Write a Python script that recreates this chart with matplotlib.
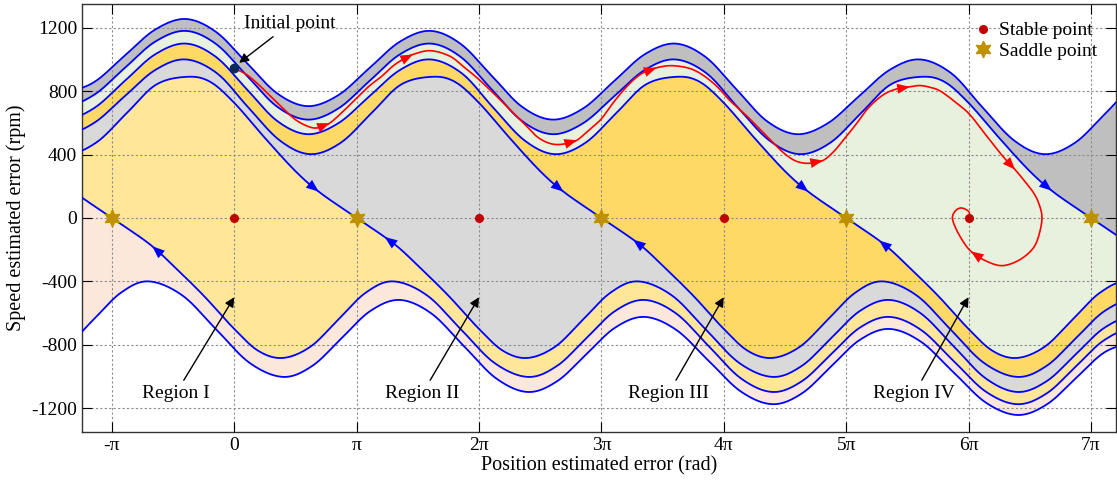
import numpy as np
import matplotlib
matplotlib.use('Agg')
import matplotlib.pyplot as plt
from matplotlib.lines import Line2D

plt.rcParams['font.family'] = ['Liberation Serif', 'DejaVu Serif']
plt.rcParams['axes.unicode_minus'] = False

# stable-manifold (separatrix) profile, relative to its saddle
# offset along x in multiples of pi, speed error in rpm
sep_u = [-10.4, -10.15, -9.9, -9.65, -9.4, -9.15, -8.9, -8.65, -8.4, -8.15, -7.9, -7.65,
         -7.4, -7.15, -6.9, -6.65, -6.4, -6.15, -5.9, -5.65, -5.4, -5.15, -4.9, -4.65,
         -4.4, -4.15, -3.9, -3.65, -3.4, -3.14, -2.89, -2.63, -2.38, -2.13, -1.88, -1.64,
         -1.39, -1.2, -1.0, -0.75, -0.5, -0.3, 0.0, 0.3, 0.5, 0.75, 1.0, 1.2, 1.4, 1.625,
         1.85, 2.075, 2.3, 2.575, 2.85, 3.125, 3.4, 3.64, 3.875, 4.11, 4.35, 4.61, 4.875,
         5.14, 5.4, 5.64, 5.875, 6.11, 6.35, 6.61, 6.875, 7.14, 7.4, 7.64, 7.875, 8.11,
         8.35, 8.61, 8.875, 9.14, 9.4, 9.64, 9.875, 10.11, 10.35]
sep_w = [785, 854, 1020, 1186, 1255, 1174, 980, 786, 705, 774, 942, 1110, 1180, 1098,
         900, 702, 620, 690, 860, 1030, 1100, 1016, 814, 612, 528, 597, 764, 931, 1000,
         912, 701, 490, 402, 474, 660, 840, 890, 860, 726, 505, 295, 160, 0, -160, -300,
         -490, -700, -840, -883, -811, -641, -471, -400, -488, -701, -914, -1003, -932,
         -760, -588, -517, -602, -807, -1012, -1098, -1029, -861, -693, -624, -705, -900,
         -1095, -1175, -1106, -938, -770, -700, -780, -972, -1164, -1243, -1176, -1012,
         -848, -780]

# saddles whose separatrices are drawn (x/pi), bottom to top
sep_saddles = [-3, -1, 1, 3, 5, 7, 9]
band_colors = ['#FCE8DA', '#FFE699', '#D9D9D9', '#FFD966', '#E8F0DE', '#BFBFBF']

stable_x = [0, 2, 4, 6]
saddle_x = [-1, 1, 3, 5, 7]

# blue arrows on separatrices: saddle and x/pi of the arrow head
arrow_saddle = [1, 3, 5, 7, -1, 1, 3, 5]
arrow_x = [0.69, 2.69, 4.69, 6.68, -0.67, 1.23, 3.26, 5.27]

# red trajectory from the initial point
traj_x = [0.0, 0.1, 0.2, 0.3, 0.4, 0.5, 0.6, 0.68, 0.78, 0.9, 1.0, 1.1, 1.2, 1.3, 1.4,
          1.46, 1.6, 1.76, 1.88, 2.0, 2.14, 2.28, 2.4, 2.47, 2.55, 2.63, 2.72, 2.8, 2.9,
          3.0, 3.1, 3.21, 3.3, 3.37, 3.45, 3.55, 3.65, 3.75, 3.85, 3.95, 4.05, 4.19, 4.3,
          4.46, 4.55, 4.62, 4.7, 4.81, 4.9, 4.98, 5.08, 5.17, 5.25, 5.33, 5.42, 5.52, 5.6,
          5.68, 5.77, 5.9, 6.01, 6.15, 6.28, 6.38, 6.47, 6.53, 6.57, 6.6, 6.58, 6.53, 6.42,
          6.28, 6.15, 6.02, 5.93, 5.87, 5.89, 5.94, 6.0, 6.01]
traj_w = [943, 905, 840, 765, 690, 620, 578, 568, 598, 680, 755, 830, 890, 960, 1010,
          1031, 1055, 1021, 950, 873, 770, 663, 570, 515, 478, 463, 470, 490, 555,
          625, 730, 831, 895, 926, 947, 960, 955, 935, 890, 825, 740, 642, 555,
          431, 375, 351, 345, 362, 420, 494, 590, 684, 745, 789, 815, 827, 835,
          825, 800, 726, 652, 515, 389, 305, 221, 160, 100, 10, -95, -189, -263,
          -301, -274, -211, -116, -11, 42, 63, 42, 10]
red_arrow_idx = [8, 15, 27, 34, 47, 55, 63, 73]

init_x, init_w = 0.0, 943

region_names = ['Region I', 'Region II', 'Region III', 'Region IV']
region_tip_x = [0, 2, 4, 6]
region_text_x = [-0.48, 1.535, 3.545, 5.555]

xticks = [-1, 0, 1, 2, 3, 4, 5, 6, 7]
xtick_labels = ['-π', '0', 'π', '2π', '3π', '4π', '5π', '6π', '7π']
yticks = [-1200, -800, -400, 0, 400, 800, 1200]

SUB = 12  # smoothing steps between read points


def catmull_rom(xs, ys, n=SUB):
    # smooth curve through the read points
    x = np.asarray(xs, float)
    y = np.asarray(ys, float)
    xp = np.r_[2 * x[0] - x[1], x, 2 * x[-1] - x[-2]]
    yp = np.r_[2 * y[0] - y[1], y, 2 * y[-1] - y[-2]]
    t = np.linspace(0, 1, n, endpoint=False)
    ox, oy = [], []
    for i in range(1, len(x)):
        for p, out in ((xp, ox), (yp, oy)):
            p0, p1, p2, p3 = p[i - 1], p[i], p[i + 1], p[i + 2]
            out.append(0.5 * (2 * p1 + (-p0 + p2) * t + (2 * p0 - 5 * p1 + 4 * p2 - p3) * t ** 2
                              + (-p0 + 3 * p1 - 3 * p2 + p3) * t ** 3))
    ox.append([x[-1]])
    oy.append([y[-1]])
    return np.concatenate(ox), np.concatenate(oy)


def head_on_path(ax, px, py, j, color, step=1):
    # filled head with its tip at point j, aligned with the chord of the
    # path over the head's length (screen space)
    pts = ax.transData.transform(np.column_stack([px, py]))
    k = j
    while 0 < k < len(px) - 1 and np.hypot(*(pts[j] - pts[k])) < 12:
        k -= step
    d = (pts[j] - pts[k]) / np.hypot(*(pts[j] - pts[k]))
    ax.annotate('', xy=(px[j], py[j]), xytext=(-d[0] * 9, -d[1] * 9),
                textcoords='offset points',
                arrowprops=dict(arrowstyle='-|>,head_length=0.5,head_width=0.2',
                                color=color, lw=0, mutation_scale=18,
                                shrinkA=0, shrinkB=0), zorder=5)


su, sw = catmull_rom(sep_u, sep_w)
tx, tw = catmull_rom(traj_x, traj_w)

fig = plt.figure(figsize=(11.17, 4.87), dpi=100)
ax = fig.add_axes([0.0734, 0.113, 0.9257, 0.879])
ax.set_xlim(-1.244, 7.205)
ax.set_ylim(-1350, 1350)

xg = np.linspace(-1.3, 7.3, 1721)
curves = [np.interp(xg - s, su, sw) for s in sep_saddles]

for lo, hi, c in zip(curves[:-1], curves[1:], band_colors):
    ax.fill_between(xg, lo, hi, color=c, lw=0, zorder=0)

for cv in curves:
    ax.plot(xg, cv, color='#0000FF', lw=1.3, zorder=3)

for s, xa in zip(arrow_saddle, arrow_x):
    cv = curves[sep_saddles.index(s)]
    j = int(np.argmin(np.abs(xg - xa)))
    # upper branch flows right towards the saddle, lower branch flows left
    head_on_path(ax, xg, cv, j, '#0000FF', step=1 if xa < s else -1)

ax.plot(tx, tw, color='#FF0000', lw=1.2, zorder=4)
for i in red_arrow_idx:
    head_on_path(ax, tx, tw, i * SUB, '#FF0000')

ax.plot(stable_x, [0] * len(stable_x), 'o', color='#C00000', ms=5.5, zorder=6)
ax.plot(saddle_x, [0] * len(saddle_x), marker=(6, 1, 0), ls='none', color='#BF9000',
        ms=12, zorder=6)
ax.plot([init_x], [init_w], 'o', color='#0B2A59', ms=6, zorder=6)

ax.annotate('Initial point', xy=(init_x + 0.04, init_w + 35), xytext=(0.455, 1225),
            ha='center', va='center', fontsize=14,
            arrowprops=dict(arrowstyle='-|>', color='black', lw=1,
                            mutation_scale=14, shrinkA=2, shrinkB=0))

for name, tx_, px in zip(region_names, region_text_x, region_tip_x):
    ax.annotate(name, xy=(px, -500), xytext=(tx_, -1110), ha='center', va='center',
                fontsize=14,
                arrowprops=dict(arrowstyle='-|>', color='black', lw=1,
                                mutation_scale=14, shrinkA=2, shrinkB=0))

handles = [Line2D([], [], marker='o', ls='none', color='#C00000', ms=5.5),
           Line2D([], [], marker=(6, 1, 0), ls='none', color='#BF9000', ms=12)]
ax.legend(handles, ['Stable point', 'Saddle point'], loc='upper right',
          bbox_to_anchor=(0.995, 0.99), frameon=False, fontsize=14,
          handlelength=1.0, handletextpad=0.3, labelspacing=0.15, borderpad=0.2)

ax.set_xticks(xticks)
ax.set_xticklabels(xtick_labels)
ax.set_yticks(yticks)
ax.tick_params(direction='in', top=True, right=True, length=7, labelsize=14)
ax.grid(True, color='#8C8C8C', linestyle=(0, (2, 2)), lw=0.8)
ax.set_axisbelow(False)
for sp in ax.spines.values():
    sp.set_linewidth(1.0)
    sp.set_color('#333333')

ax.set_xlabel('Position estimated error (rad)', fontsize=14.5, labelpad=2)
ax.set_ylabel('Speed estimated error (rpm)', fontsize=14.5, labelpad=4)

fig.savefig('out.png', dpi=100)
